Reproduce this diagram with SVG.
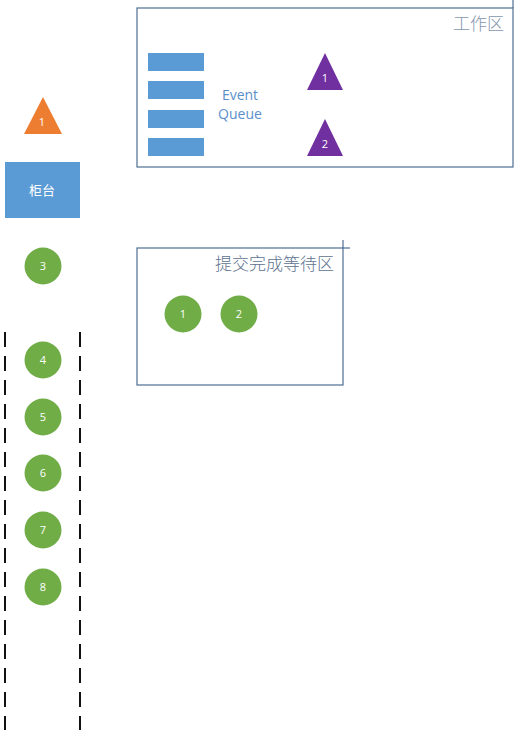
<svg xmlns="http://www.w3.org/2000/svg" width="521" height="730" viewBox="0 0 521 730">
<style>
.frame{fill:none;stroke:#4f6f92;stroke-width:1.2}
.bar{fill:#5b9bd5}
.tri{fill:#7030a0}
.circ{fill:#70ad47}
.lbl{font-family:"Open Sans","Liberation Sans",sans-serif;font-size:11px;fill:#ffffff;text-anchor:middle}
.zone{font-family:"Noto Sans CJK SC",sans-serif;font-size:17px;text-anchor:end;font-weight:300}
.dash{stroke:#111111;stroke-width:2;stroke-dasharray:15 9;fill:none}
</style>
<rect width="521" height="730" fill="#ffffff"/>
<g id="work-area">
<rect class="frame" x="137" y="8" width="376" height="159"/>
<line class="frame" x1="513" y1="0" x2="513" y2="8"/>
<text class="zone" x="504" y="30" fill="#8496ad">工作区</text>
</g>
<g id="event-queue">
<rect class="bar" x="148" y="53" width="56" height="18"/>
<rect class="bar" x="148" y="81" width="56" height="18"/>
<rect class="bar" x="148" y="110" width="56" height="18"/>
<rect class="bar" x="148" y="138" width="56" height="18"/>
<text font-family="Open Sans, Liberation Sans, sans-serif" font-size="14" fill="#5b8fcc" text-anchor="middle"><tspan x="240" y="100">Event</tspan><tspan x="240" y="119">Queue</tspan></text>
</g>
<g id="worker-1">
<polygon class="tri" points="325,53 343,90 307,90"/>
<text class="lbl" x="325" y="82">1</text>
</g>
<g id="worker-2">
<polygon class="tri" points="325,119 343,156 307,156"/>
<text class="lbl" x="325" y="148">2</text>
</g>
<g id="customer-1">
<polygon fill="#ed7d31" points="43,97 62,134 24,134"/>
<text class="lbl" x="42" y="126">1</text>
</g>
<g id="counter">
<rect class="bar" x="5" y="162" width="75" height="56"/>
<text font-family="Noto Sans CJK SC, sans-serif" font-size="13" fill="#ffffff" text-anchor="middle" x="42" y="195">柜台</text>
</g>
<g id="customer-3">
<circle class="circ" cx="43" cy="266" r="18.5"/>
<text class="lbl" x="43" y="270">3</text>
</g>
<g id="wait-area">
<rect class="frame" x="137" y="248" width="206" height="137"/>
<line class="frame" x1="343" y1="240" x2="343" y2="248"/>
<line class="frame" x1="343" y1="248" x2="350" y2="248"/>
<text class="zone" x="334" y="270" fill="#5e7290">提交完成等待区</text>
</g>
<g id="done-1">
<circle class="circ" cx="183" cy="314" r="18.5"/>
<text class="lbl" x="183" y="318">1</text>
</g>
<g id="done-2">
<circle class="circ" cx="239" cy="314" r="18.5"/>
<text class="lbl" x="239" y="318">2</text>
</g>
<g id="queue-lane">
<line class="dash" x1="5" y1="332" x2="5" y2="730"/>
<line class="dash" x1="80" y1="332" x2="80" y2="730"/>
</g>
<g id="customer-4"><circle class="circ" cx="43" cy="360" r="18.5"/><text class="lbl" x="43" y="364">4</text></g>
<g id="customer-5"><circle class="circ" cx="43" cy="417" r="18.5"/><text class="lbl" x="43" y="421">5</text></g>
<g id="customer-6"><circle class="circ" cx="43" cy="473" r="18.5"/><text class="lbl" x="43" y="477">6</text></g>
<g id="customer-7"><circle class="circ" cx="43" cy="530" r="18.5"/><text class="lbl" x="43" y="534">7</text></g>
<g id="customer-8"><circle class="circ" cx="43" cy="587" r="18.5"/><text class="lbl" x="43" y="591">8</text></g>
</svg>
